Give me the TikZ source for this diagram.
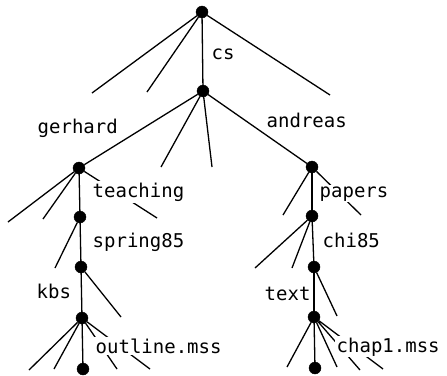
\documentclass[tikz,border=0pt]{standalone}
\usepackage{fontspec}
\setmonofont{DejaVu Sans Mono}
\begin{document}
\begin{tikzpicture}[x=1pt,y=-1pt]

\tikzstyle{folder}=[fill=black, draw, circle, inner sep=0pt, minimum size=12pt]
\tikzstyle{edge}=[line width=1.3pt]
\tikzstyle{foldername}=[anchor=base west, fill=white, inner sep=1.5pt, font=\ttfamily\fontsize{19}{19}\selectfont]

\useasboundingbox (0,0) rectangle (447,375);

% directories
\node[folder] (root) at (202,12) {};
\node[folder] (cs) at (203,91) {};
\node[folder] (gerhard) at (79,168) {};
\node[folder] (andreas) at (312,167) {};
\node[folder] (teaching) at (80,217) {};
\node[folder] (papers) at (312,216) {};
\node[folder] (spring85) at (81,267) {};
\node[folder] (chi85) at (314,267) {};
\node[folder] (kbs) at (82,318) {};
\node[folder] (text) at (314,317) {};
\node[folder] (outline) at (83,369) {};
\node[folder] (chap1) at (315,368) {};

% loose ends
\coordinate (root-a) at (92,93); \coordinate (root-b) at (147,92); \coordinate (root-c) at (330,95);
\coordinate (cs-a) at (161,167); \coordinate (cs-b) at (212,167);
\coordinate (gerhard-a) at (8,222); \coordinate (gerhard-b) at (43,219); \coordinate (gerhard-c) at (157,218);
\coordinate (andreas-a) at (283,215); \coordinate (andreas-b) at (361,215);
\coordinate (teaching-a) at (55,268);
\coordinate (spring85-a) at (121,317);
\coordinate (kbs-a) at (29,370); \coordinate (kbs-b) at (54,369);
\coordinate (kbs-c) at (117,369); \coordinate (kbs-d) at (150,369);
\coordinate (papers-a) at (255,268); \coordinate (papers-b) at (292,268);
\coordinate (chi85-a) at (337,316);
\coordinate (text-a) at (287,367); \coordinate (text-b) at (337,367);
\coordinate (text-c) at (360,370); \coordinate (text-d) at (383,369);

% links
\draw[edge] (root) -- (cs);
\draw[edge] (root) -- (root-a) (root) -- (root-b) (root) -- (root-c);
\draw[edge] (cs) -- (gerhard);
\draw[edge] (cs) -- (andreas);
\draw[edge] (cs) -- (cs-a) (cs) -- (cs-b);
\draw[edge] (gerhard) -- (teaching);
\draw[edge] (gerhard) -- (gerhard-a) (gerhard) -- (gerhard-b) (gerhard) -- (gerhard-c);
\draw[edge] (andreas) -- (papers);
\draw[edge] (andreas) -- (andreas-a) (andreas) -- (andreas-b);
\draw[edge] (teaching) -- (spring85);
\draw[edge] (teaching) -- (teaching-a);
\draw[edge] (spring85) -- (kbs);
\draw[edge] (spring85) -- (spring85-a);
\draw[edge] (kbs) -- (outline);
\draw[edge] (kbs) -- (kbs-a) (kbs) -- (kbs-b) (kbs) -- (kbs-c) (kbs) -- (kbs-d);
\draw[edge] (papers) -- (chi85);
\draw[edge] (papers) -- (papers-a) (papers) -- (papers-b);
\draw[edge] (chi85) -- (text);
\draw[edge] (chi85) -- (chi85-a);
\draw[edge] (text) -- (chap1);
\draw[edge] (text) -- (text-a) (text) -- (text-b) (text) -- (text-c) (text) -- (text-d);

% names
\node[foldername] (cs-name) at (210,59) {cs};
\node[foldername] (gerhard-name) at (36,133) {gerhard};
\node[foldername] (andreas-name) at (265,127) {andreas};
\node[foldername] (teaching-name) at (91,197) {teaching};
\node[foldername] (papers-name) at (318,197) {papers};
\node[foldername] (spring85-name) at (91,247) {spring85};
\node[foldername] (chi85-name) at (321,247) {chi85};
\node[foldername] (kbs-name) at (35,298) {kbs};
\node[foldername] (text-name) at (263,300) {text};
\node[foldername] (outline-name) at (94,353) {outline.mss};
\node[foldername] (chap1-name) at (335,352) {chap1.mss};

\end{tikzpicture}
\end{document}
